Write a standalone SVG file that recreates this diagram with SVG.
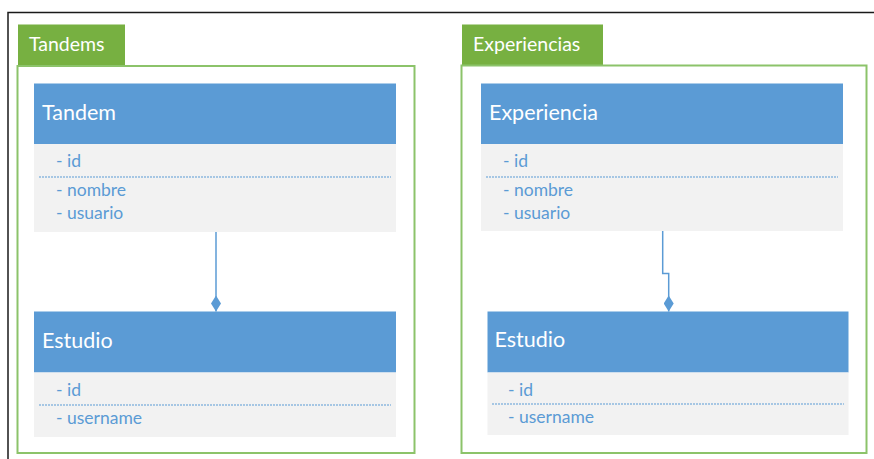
<svg xmlns="http://www.w3.org/2000/svg" width="874" height="459" viewBox="0 0 874 459">
<style>
.frame{fill:none;stroke:#1a1a1a;stroke-width:1.5}
.tab{fill:#77B041}
.tabt{fill:#fff;font-family:Lato,"Liberation Sans",sans-serif;font-size:19.5px}
.pkg{fill:none;stroke:#8CC36A;stroke-width:2}
.hdr{fill:#5B9BD5}
.body{fill:#F2F2F2}
.ht{fill:#fff;font-family:Lato,"Liberation Sans",sans-serif;font-size:21.5px}
.at{fill:#5B9BD5;font-family:Lato,"Liberation Sans",sans-serif;font-size:17.5px}
.sep{stroke:#5B9BD5;stroke-width:1;stroke-dasharray:2 1}
.conn{fill:none;stroke:#5B9BD5;stroke-width:1.5}
</style>
<defs>
<marker id="dia" viewBox="0 0 16 10" refX="16" refY="5" markerWidth="16" markerHeight="10" markerUnits="userSpaceOnUse" orient="auto">
<path d="M0,5 L8,0 L16,5 L8,10 Z" fill="#5B9BD5"/>
</marker>
</defs>
<path class="frame" d="M8,459 V12.5 H874"/>
<g id="pkg-tandems">
<rect class="tab" x="18" y="24.5" width="107" height="41.5"/>
<text class="tabt" x="29" y="51">Tandems</text>
<rect class="pkg" x="17.5" y="66" width="397" height="387"/>
</g>
<g id="pkg-experiencias">
<rect class="tab" x="462" y="24.5" width="141" height="41"/>
<text class="tabt" x="473" y="51">Experiencias</text>
<rect class="pkg" x="461.5" y="65.5" width="405" height="387.5"/>
</g>
<g id="tandem">
<rect class="hdr" x="34" y="83.5" width="362" height="60.5"/>
<rect class="body" x="34" y="144" width="362" height="88"/>
<text class="ht" x="42" y="120">Tandem</text>
<text class="at" x="56" y="167">- id</text>
<line class="sep" x1="39" y1="177" x2="391" y2="177"/>
<text class="at" x="56" y="196">- nombre</text>
<text class="at" x="56" y="219">- usuario</text>
</g>
<g id="estudio-1">
<rect class="hdr" x="34" y="311.5" width="362" height="61"/>
<rect class="body" x="34" y="372.5" width="362" height="64.5"/>
<text class="ht" x="42" y="348">Estudio</text>
<text class="at" x="56" y="396">- id</text>
<line class="sep" x1="39" y1="405" x2="391" y2="405"/>
<text class="at" x="56" y="424">- username</text>
</g>
<g id="experiencia">
<rect class="hdr" x="481" y="83.5" width="362" height="60.5"/>
<rect class="body" x="481" y="144" width="362" height="87"/>
<text class="ht" x="489" y="120">Experiencia</text>
<text class="at" x="503" y="167">- id</text>
<line class="sep" x1="486" y1="177" x2="838" y2="177"/>
<text class="at" x="503" y="196">- nombre</text>
<text class="at" x="503" y="219">- usuario</text>
</g>
<g id="estudio-2">
<rect class="hdr" x="487.5" y="311.5" width="361" height="61"/>
<rect class="body" x="487.5" y="372.5" width="361" height="62.5"/>
<text class="ht" x="494.5" y="347">Estudio</text>
<text class="at" x="508" y="396">- id</text>
<line class="sep" x1="492" y1="404" x2="844" y2="404"/>
<text class="at" x="508" y="423">- username</text>
</g>
<g id="connectors">
<path class="conn" d="M216,232 V311.5" marker-end="url(#dia)"/>
<path class="conn" d="M662.7,231 V273.5 H668.7 V311.5" marker-end="url(#dia)"/>
</g>
</svg>
